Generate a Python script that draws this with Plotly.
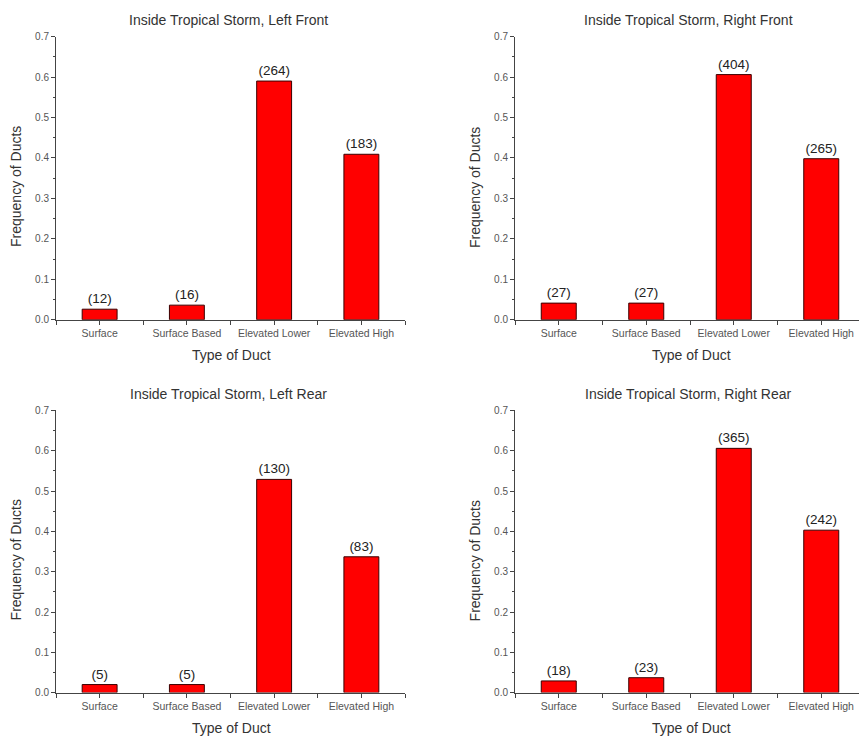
import plotly.graph_objects as go

categories = ["Surface", "Surface Based", "Elevated Lower", "Elevated High"]

titles = [
    "Inside Tropical Storm, Left Front",
    "Inside Tropical Storm, Right Front",
    "Inside Tropical Storm, Left Rear",
    "Inside Tropical Storm, Right Rear",
]

freq_left_front = [0.026, 0.036, 0.590, 0.409]
freq_right_front = [0.041, 0.041, 0.606, 0.398]
freq_left_rear = [0.020, 0.020, 0.529, 0.337]
freq_right_rear = [0.029, 0.037, 0.606, 0.403]

count_left_front = [12, 16, 264, 183]
count_right_front = [27, 27, 404, 265]
count_left_rear = [5, 5, 130, 83]
count_right_rear = [18, 23, 365, 242]

y_ticks = [0.0, 0.1, 0.2, 0.3, 0.4, 0.5, 0.6, 0.7]

W, H = 859, 743
FONT = "Liberation Sans, Arial, sans-serif"

# panel geometry in pixels: (x_left, x_right_full, y_top(0.7), y_bottom(0))
panels = [
    (56, 405, 32, 319),
    (515, 865, 32, 319),
    (56, 405, 411, 697),
    (515, 865, 411, 697),
]
freqs = [freq_left_front, freq_right_front, freq_left_rear, freq_right_rear]
counts = [count_left_front, count_right_front, count_left_rear, count_right_rear]

fig = go.Figure()
xpos = list(range(len(categories)))

layout_axes = {}
annotations = []
for i, (x0, x1, yt, yb) in enumerate(panels):
    n = "" if i == 0 else str(i + 1)
    xa = "x" + n
    ya = "y" + n
    fig.add_trace(go.Bar(
        x=xpos, y=freqs[i],
        text=[f"({c})" for c in counts[i]],
        textposition="outside",
        textfont=dict(family=FONT, size=13.5, color="#222"),
        marker=dict(color="#ff0000", line=dict(color="#3a0000", width=1)),
        width=0.4,
        cliponaxis=False,
        xaxis=xa, yaxis=ya,
        showlegend=False,
    ))
    span_px = (x1 - x0)
    x_end_px = min(x1, W)
    dom_x = [x0 / W, x_end_px / W]
    r_end = -0.5 + 4.0 * (x_end_px - x0) / span_px
    dom_y = [(H - yb) / H, (H - yt) / H]
    layout_axes["xaxis" + n] = dict(
        domain=dom_x, range=[-0.5, r_end], anchor=ya,
        tickmode="array", tickvals=xpos, ticktext=categories,
        ticks="outside", ticklen=4, tickcolor="#444",
        showline=True, linecolor="#444", linewidth=1,
        showgrid=False, zeroline=False,
        tickfont=dict(family=FONT, size=10.5, color="#555"),
        minor=dict(ticks="outside", ticklen=4, tick0=0.5, dtick=1, tickcolor="#444", showgrid=False),
    )
    layout_axes["yaxis" + n] = dict(
        domain=dom_y, range=[0, 0.7], anchor=xa,
        tickmode="array", tickvals=y_ticks, ticktext=[f"{v:.1f}" for v in y_ticks],
        ticks="outside", ticklen=4, tickcolor="#444",
        showline=True, linecolor="#444", linewidth=1,
        showgrid=False, zeroline=False,
        tickfont=dict(family=FONT, size=10, color="#555"),
        minor=dict(ticks="outside", ticklen=2, tick0=0.05, dtick=0.1, tickcolor="#444", showgrid=False),
    )
    cx = (x0 + x1) / 2
    title_y = yt - 17
    annotations.append(dict(
        text=titles[i], x=(cx - 2) / W, y=1 - title_y / H, xref="paper", yref="paper",
        showarrow=False, xanchor="center", yanchor="middle",
        font=dict(family=FONT, size=14, color="#333"),
    ))
    annotations.append(dict(
        text="Type of Duct", x=(cx + 1) / W, y=1 - (yb + 36) / H, xref="paper", yref="paper",
        showarrow=False, xanchor="center", yanchor="middle",
        font=dict(family=FONT, size=14, color="#333"),
    ))
    annotations.append(dict(
        text="Frequency of Ducts", x=(x0 - 40) / W, y=1 - ((yt + yb) / 2 + 9) / H,
        xref="paper", yref="paper", textangle=-90,
        showarrow=False, xanchor="center", yanchor="middle",
        font=dict(family=FONT, size=14, color="#333"),
    ))

fig.update_layout(
    width=W, height=H,
    margin=dict(l=0, r=0, t=0, b=0),
    plot_bgcolor="white", paper_bgcolor="white",
    annotations=annotations,
    **layout_axes,
)

fig.write_html(
    "out.html",
    config={"displayModeBar": False},
    post_script="document.body.style.margin='0';document.body.style.overflow='hidden';",
)
